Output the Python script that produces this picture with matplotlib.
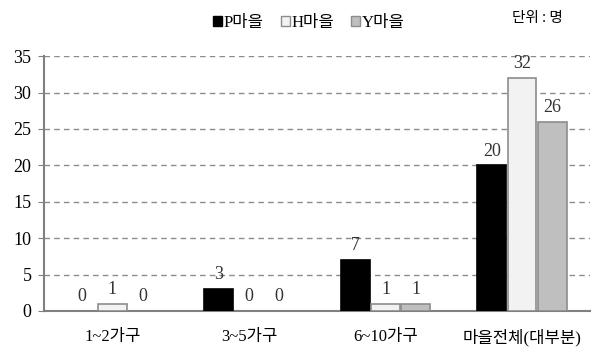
import numpy as np
import matplotlib.pyplot as plt
from matplotlib.patches import Patch

categories = ['1~2가구', '3~5가구', '6~10가구', '마을전체(대부분)']
p_village = [0, 3, 7, 20]
h_village = [1, 0, 1, 32]
y_village = [0, 0, 1, 26]
series_names = ['P마을', 'H마을', 'Y마을']

mixed = ['Liberation Serif', 'Noto Sans CJK KR']
korean = ['Noto Sans CJK KR', 'DejaVu Sans']

fig = plt.figure(figsize=(5.94, 3.55), dpi=100)
ax = fig.add_axes([0.074, 0.124, 0.92, 0.718])

x = np.arange(len(categories))
w = 0.21
gap = 0.012
fills = ['#000000', '#f2f2f2', '#bfbfbf']
edges = ['#000000', '#8c8c8c', '#8c8c8c']
for i, vals in enumerate([p_village, h_village, y_village]):
    pos = x + (i - 1) * (w + gap)
    # zero-height bars get no outline so they don't show on the axis line
    lw = [1.2 if v else 0 for v in vals]
    ax.bar(pos, vals, width=w, color=fills[i], edgecolor=edges[i], linewidth=lw, zorder=3)
    for xp, v in zip(pos, vals):
        ax.text(xp, v + 0.8, str(v), ha='center', va='bottom',
                fontsize=13, family='Liberation Serif', color='#333333')

ax.set_xlim(-0.5, 3.5)
ax.set_ylim(0, 35)
ax.set_yticks(range(0, 36, 5))
ax.yaxis.grid(True, linestyle=(0, (4, 3)), color='#8c8c8c', linewidth=1.0, zorder=0)
ax.set_axisbelow(True)
for side in ['top', 'right']:
    ax.spines[side].set_visible(False)
for side in ['left', 'bottom']:
    ax.spines[side].set_color('#808080')
    ax.spines[side].set_linewidth(1.5)
ax.tick_params(axis='y', length=4, color='#808080', labelsize=13, pad=5)
ax.tick_params(axis='x', length=0, pad=13)
for lab in ax.get_yticklabels():
    lab.set_family('Liberation Serif')
ax.set_xticks(x)
ax.set_xticklabels(categories, fontsize=12, family=mixed)

handles = [Patch(facecolor=fills[i], edgecolor=edges[i]) for i in range(3)]
fig.legend(handles, series_names, loc='center', bbox_to_anchor=(0.52, 0.935),
           ncol=3, frameon=False, handlelength=0.55, handleheight=0.55,
           handletextpad=0.1, columnspacing=1.0, prop={'family': mixed, 'size': 12})
fig.text(0.905, 0.95, '단위 : 명', ha='center', va='center', fontsize=10.5, family=korean)

fig.savefig('out.png', dpi=100)
